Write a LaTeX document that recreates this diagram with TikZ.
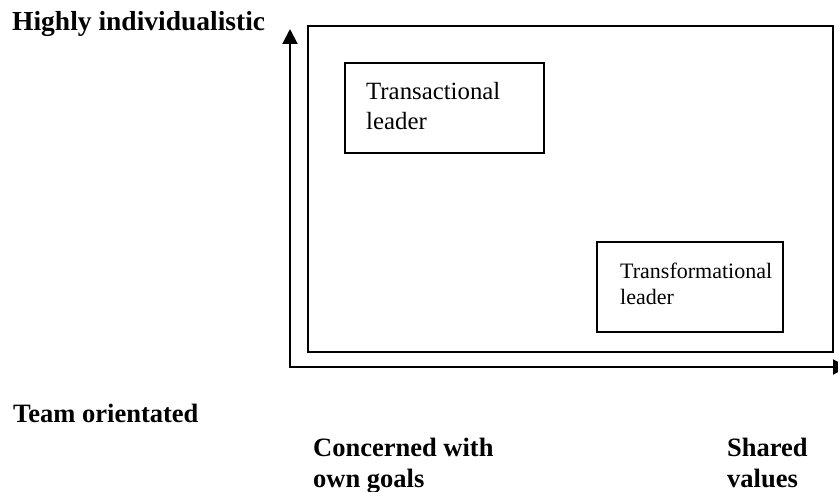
\documentclass[tikz,border=0pt]{standalone}
\usepackage{fontspec}
\setmainfont{Liberation Serif}
\usetikzlibrary{arrows.meta}
\begin{document}
\begin{tikzpicture}[x=1pt,y=-1pt,
  axes/.style={line width=2pt,{Triangle[length=15pt,width=15pt]}-{Triangle[length=15pt,width=15pt]}},
  box/.style={draw,line width=2pt,inner sep=0pt,outer sep=0pt,anchor=north west},
  heading/.style={font=\fontsize{26.5}{31}\selectfont\bfseries,anchor=base west,inner sep=0pt,align=left},
  bigtext/.style={font=\fontsize{24.8}{30}\selectfont,anchor=base west,inner sep=0pt,align=left},
  smalltext/.style={font=\fontsize{22}{26}\selectfont,anchor=base west,inner sep=0pt,align=left}]
\useasboundingbox (0,0) rectangle (838,492);

% axes
\coordinate (origin) at (290,367);
\coordinate (ytip) at (290,29);
\coordinate (xtip) at (848,367);
\draw[axes] (ytip) -- (origin) -- (xtip);

% frame and leader boxes
\node[box,minimum width=525pt,minimum height=326pt] (frame) at (308,26) {};
\node[box,minimum width=199pt,minimum height=90pt] (tbox) at (345,63) {};
\node[box,minimum width=186pt,minimum height=90pt] (fbox) at (597,242) {};
% multi-line nodes sit on the baseline of their last line
\node[bigtext] (tlabel) at ([shift={(21,67)}]tbox.north west) {Transactional\\leader};
\node[smalltext] (flabel) at ([shift={(23,62)}]fbox.north west) {Transformational\\leader};

% axis labels
\node[heading,font=\fontsize{27.5}{31}\selectfont\bfseries] (high) at (12,31) {Highly individualistic};
\node[heading] (team) at (13,422) {Team orientated};
\node[heading] (own) at (313,487) {Concerned with\\own goals};
\node[heading] (shared) at (727,487) {Shared\\values};
\end{tikzpicture}
\end{document}
